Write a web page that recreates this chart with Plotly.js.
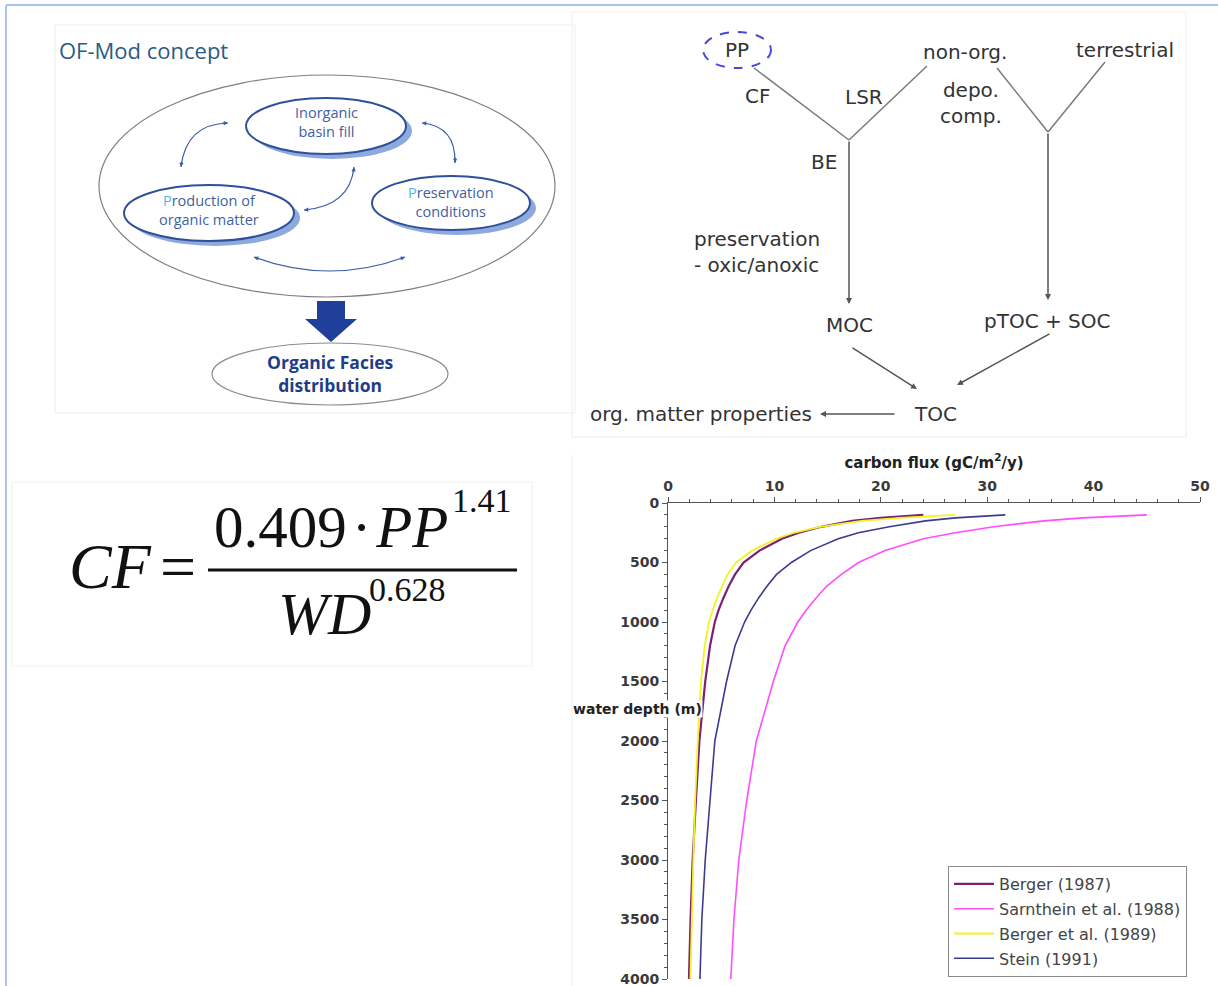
<!DOCTYPE html>
<html><head><meta charset="utf-8">
<script src="https://cdn.plot.ly/plotly-3.0.1.min.js"></script>
<style>html,body{margin:0;padding:0;background:#fff;overflow:hidden}#chart{width:1218px;height:986px}</style>
</head><body><div id="chart"></div>
<script>
// ---------------- data ----------------
const depthM = [100,125,150,200,250,300,400,500,600,700,800,900,1000,1200,1500,2000,2500,3000,3500,4000];
const fluxBerger1987    = [24.0,20.0,17.3,14.4,12.3,10.7,8.6,7.1,6.3,5.7,5.2,4.75,4.4,3.95,3.5,2.95,2.62,2.32,2.12,1.97];
const fluxSarnthein1988 = [45.0,39.0,35.3,30.6,27.0,24.0,20.4,17.9,16.3,14.9,13.9,13.0,12.2,11.0,9.9,8.3,7.4,6.65,6.2,5.9];
const fluxBerger1989    = [27.0,21.8,18.2,14.3,11.8,10.2,7.9,6.4,5.6,5.1,4.6,4.2,3.85,3.45,3.1,2.8,2.55,2.38,2.22,2.1];
const fluxStein1991     = [31.7,27.0,24.2,20.8,17.9,16.0,13.4,11.6,10.2,9.3,8.5,7.8,7.2,6.3,5.5,4.4,3.95,3.5,3.18,3.0];
const seriesNames = ['Berger (1987)','Sarnthein et al. (1988)','Berger et al. (1989)','Stein (1991)'];
const fluxTicks  = [0,10,20,30,40,50];
const depthTicks = [0,500,1000,1500,2000,2500,3000,3500,4000];

// ---------------- helpers (pixel -> paper) ----------------
const W = 1218, H = 986;
const X = p => p / W, Y = p => 1 - p / H;
const shapes = [], annotations = [];
const SANS = 'DejaVu Sans, Liberation Sans, Arial, sans-serif';
const CAL = 'Open Sans, Lato, sans-serif';
const SERIF = 'Liberation Serif, Times New Roman, serif';

function ell(cx, cy, rx, ry, line, fill) {
  shapes.push({type:'circle', xref:'paper', yref:'paper', x0:X(cx-rx), x1:X(cx+rx), y0:Y(cy+ry), y1:Y(cy-ry),
    line: line || {width:0}, fillcolor: fill || 'rgba(0,0,0,0)'});
}
function seg(x0, y0, x1, y1, color, width, dash) {
  shapes.push({type:'line', xref:'paper', yref:'paper', x0:X(x0), y0:Y(y0), x1:X(x1), y1:Y(y1),
    line:{color:color, width:width, dash:dash || 'solid'}});
}
function rect(x0, y0, x1, y1, color) {
  shapes.push({type:'rect', xref:'paper', yref:'paper', x0:X(x0), y0:Y(y1), x1:X(x1), y1:Y(y0),
    line:{color:color, width:1}, fillcolor:'rgba(0,0,0,0)'});
}
function poly(pts, fill) {
  const d = pts.map((p, i) => (i ? 'L ' : 'M ') + X(p[0]) + ',' + Y(p[1])).join(' ') + ' Z';
  shapes.push({type:'path', xref:'paper', yref:'paper', path:d, fillcolor:fill, line:{width:0}});
}
function txt(x, y, text, size, color, family, extra) {
  annotations.push(Object.assign({xref:'paper', yref:'paper', x:X(x), y:Y(y), text:text, showarrow:false,
    font:{size:size, color:color, family:family}, xanchor:'center', yanchor:'middle'}, extra || {}));
}
function arrow(hx, hy, tx, ty, color, width, size) {
  annotations.push({xref:'paper', yref:'paper', x:X(hx), y:Y(hy), ax:tx-hx, ay:ty-hy, axref:'pixel', ayref:'pixel',
    text:'', showarrow:true, arrowhead:2, arrowsize:size || 1, arrowwidth:width || 1.2, arrowcolor:color, standoff:0});
}
const ARC = '#3b5ea8';
function head(p, c) {
  const dx = c[0]-p[0], dy = c[1]-p[1], L = Math.hypot(dx, dy);
  arrow(p[0], p[1], p[0]+dx/L*7, p[1]+dy/L*7, ARC, 1.2, 0.7);
}
function arc(a, c, b) {
  shapes.push({type:'path', xref:'paper', yref:'paper',
    path:'M ' + X(a[0]) + ',' + Y(a[1]) + ' Q ' + X(c[0]) + ',' + Y(c[1]) + ' ' + X(b[0]) + ',' + Y(b[1]),
    line:{color:ARC, width:1.2}});
  head(a, c); head(b, c);
}

// ---------------- frame & faint panels ----------------
seg(6, 5, 1218, 5, '#a9c4ec', 2);
seg(6, 5, 6, 986, '#a9c4ec', 2);
rect(55, 25, 575, 413, '#eeeeee');
rect(572, 12, 1186, 437, '#eeeeee');
rect(12, 482, 532, 666, '#f0f0f0');
seg(572, 455, 572, 986, '#eeeeee', 1);

// ---------------- OF-Mod concept ----------------
txt(57, 50, 'OF-Mod concept', 22, '#2b5a84', CAL, {xanchor:'left'});
ell(327, 186, 228, 111, {color:'#7f7f7f', width:1.2});
const inner = [[326,126,80,28],[209,213,85,28],[451,203,79,27]];
inner.forEach(e => ell(e[0]+6, e[1]+5, e[2], e[3], {width:0}, '#8ea9dd'));
inner.forEach(e => ell(e[0], e[1], e[2], e[3], {color:'#2e4f9a', width:2}, '#ffffff'));
const IN = '#3f5f9f';
txt(326, 122, 'Inorganic<br>basin fill', 14.5, IN, CAL);
txt(209, 210, '<span style="color:#4db8ea">P</span>roduction of<br>organic matter', 14.5, IN, CAL);
txt(451, 202, '<span style="color:#4db8ea">P</span>reservation<br>conditions', 14.5, IN, CAL);
arc([228,123], [186,124], [181,167]);
arc([422,123], [456,126], [455,163]);
arc([354,167], [350,206], [304,210]);
arc([254,257], [330,285], [405,257]);
poly([[317,301],[345,301],[345,319],[357,319],[331,342],[305,319],[317,319]], '#1f3f9a');
ell(330, 374, 118, 31, {color:'#8c8c8c', width:1.2});
txt(330, 373, '<b>Organic Facies<br>distribution</b>', 17.5, '#1f3c88', CAL);

// ---------------- flow diagram ----------------
const FL = '#7a7a7a', FT = '#333333', FS = 20;
ell(737, 50, 34, 18, {color:'#4a4ad8', width:2, dash:'dash'});
txt(737, 50, 'PP', FS, FT, SANS);
txt(965, 52, 'non-org.', FS, FT, SANS);
txt(1125, 50, 'terrestrial', FS, FT, SANS);
txt(757, 96, 'CF', FS, FT, SANS);
txt(864, 97, 'LSR', FS, FT, SANS);
txt(971, 103, 'depo.<br>comp.', FS, FT, SANS);
txt(824, 162, 'BE', FS, FT, SANS);
txt(692, 252, 'preservation<br>- oxic/anoxic', FS, FT, SANS, {xanchor:'left', align:'left'});
txt(849, 325, 'MOC', FS, FT, SANS);
txt(1047, 321, 'pTOC + SOC', FS, FT, SANS);
txt(935, 414, 'TOC', FS, FT, SANS);
txt(701, 414, 'org. matter properties', FS, FT, SANS);
seg(754, 68, 849, 140, FL, 1.5);
seg(927, 66, 849, 140, FL, 1.5);
seg(997, 68, 1048, 132, FL, 1.5);
seg(1105, 62, 1048, 132, FL, 1.5);
arrow(849, 304, 849, 140, '#555', 1.5, 0.8);
arrow(1048, 300, 1048, 132, '#555', 1.5, 0.8);
arrow(917, 389, 851, 347, '#555', 1.5, 0.8);
arrow(957, 385, 1051, 333, '#555', 1.5, 0.8);
arrow(820, 414, 896, 414, '#555', 1.5, 0.8);

// ---------------- equation ----------------
const EQ = '#111111';
txt(110, 566, '<i>CF</i>', 64, EQ, SERIF);
txt(178, 566, '=', 64, EQ, SERIF);
shapes.push({type:'line', xref:'paper', yref:'paper', x0:X(208), x1:X(517), y0:Y(570), y1:Y(570), line:{color:EQ, width:3}});
txt(331, 527, '0.409\u200a\u00b7\u200a<i>PP</i>', 59, EQ, SERIF);
txt(450, 500, '1.41', 34, EQ, SERIF, {xanchor:'left'});
txt(324, 614, '<i>WD</i>', 60, EQ, SERIF);
txt(367, 589, '0.628', 34, EQ, SERIF, {xanchor:'left'});

// ---------------- chart ----------------
txt(703, 709, '<b>water depth (m)</b>', 14, '#222', SANS, {xanchor:'right', bgcolor:'#ffffff', borderpad:0});

const colors = ['#7b2072', '#ff4dff', '#f2f224', '#3b3b8f'];
const widths = [2.2, 1.6, 1.8, 1.6];
const fluxes = [fluxBerger1987, fluxSarnthein1988, fluxBerger1989, fluxStein1991];
const traces = fluxes.map((f, i) => ({
  type:'scatter', mode:'lines', x:f, y:depthM, name:seriesNames[i], legendgroup:'g'+i,
  line:{color:colors[i], width:widths[i]}, hoverinfo:'skip'
}));

const tickFont = {family:SANS, size:14, weight:'bold', color:'#3a3a3a'};
const layout = {
  width:W, height:H, margin:{l:0, r:0, t:0, b:0},
  paper_bgcolor:'#ffffff', plot_bgcolor:'rgba(0,0,0,0)',
  xaxis:{domain:[X(668), X(1200)], range:[0,50], side:'top', anchor:'y', tickmode:'array', tickvals:fluxTicks,
    ticks:'outside', ticklen:5, tickcolor:'#555', showline:true, linecolor:'#555', linewidth:1,
    showgrid:false, zeroline:false, tickfont:tickFont, fixedrange:true, ticklabeloverflow:'allow',
    minor:{dtick:2, ticks:'outside', ticklen:3, tickcolor:'#555'},
    title:{text:'carbon flux (gC/m<sup>2</sup>/y)', font:{family:SANS, size:15, weight:'bold', color:'#222'}, standoff:6}},
  yaxis:{domain:[Y(979), Y(503)], range:[4000,0], anchor:'x', tickmode:'array', tickvals:depthTicks,
    ticks:'outside', ticklen:5, tickcolor:'#555', showline:true, linecolor:'#555', linewidth:1,
    showgrid:false, zeroline:false, tickfont:tickFont, fixedrange:true, ticklabeloverflow:'allow',
    minor:{dtick:100, ticks:'outside', ticklen:3, tickcolor:'#555'}},
  showlegend:true,
  legend:{x:X(948), y:Y(866), xanchor:'left', yanchor:'top', bgcolor:'#ffffff', bordercolor:'#8a8a8a', borderwidth:1,
    font:{family:SANS, size:16, color:'#444'}, itemwidth:40, traceorder:'grouped', tracegroupgap:1},
  shapes:shapes, annotations:annotations
};
Plotly.newPlot('chart', traces, layout, {staticPlot:true, displayModeBar:false});
</script></body></html>
